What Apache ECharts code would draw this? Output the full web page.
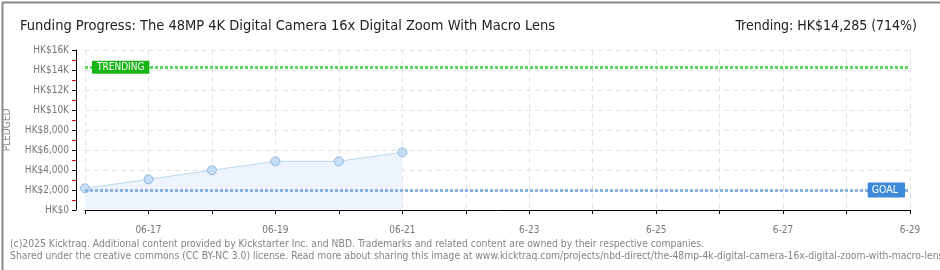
<!DOCTYPE html>
<html><head><meta charset="utf-8">
<script src="https://cdn.jsdelivr.net/npm/echarts@6/dist/echarts.min.js"></script>
<style>html,body{margin:0;padding:0;background:#fff}#c{width:940px;height:270px}</style>
</head><body><div id="c"></div>
<script>
const categories = ['06-16','06-17','06-18','06-19','06-20','06-21','6-22','6-23','6-24','6-25','6-26','6-27','6-28','6-29'];
const pledged = [2170, 3070, 3970, 4870, 4870, 5770];
const goal = 2000;
const trending = 14285;
const yTickLabels = {0:'HK$0',2000:'HK$2,000',4000:'HK$4,000',6000:'HK$6,000',8000:'HK$8,000',10000:'HK$10K',12000:'HK$12K',14000:'HK$14K',16000:'HK$16K'};
const titleText = 'Funding Progress: The 48MP 4K Digital Camera 16x Digital Zoom With Macro Lens';
const trendText = 'Trending: HK$14,285 (714%)';
const footer1 = '(c)2025 Kicktraq. Additional content provided by Kickstarter Inc. and NBD. Trademarks and related content are owned by their respective companies.';
const footer2 = 'Shared under the creative commons (CC BY-NC 3.0) license. Read more about sharing this image at www.kicktraq.com/projects/nbd-direct/the-48mp-4k-digital-camera-16x-digital-zoom-with-macro-lens/';

const chart = echarts.init(document.getElementById('c'), null, {renderer:'canvas'});
const narrow = "'Liberation Sans Narrow','DejaVu Sans Condensed',sans-serif";
const small = "'DejaVu Sans Condensed','DejaVu Sans',sans-serif";
chart.setOption({
  animation:false,
  title:[
    {text:titleText,left:15,top:14,textStyle:{fontFamily:narrow,fontSize:14.5,fontWeight:'normal',color:'#222'}},
    {text:trendText,right:18,top:14,textStyle:{fontFamily:narrow,fontSize:14,fontWeight:'normal',color:'#222'}},
    {text:footer1,left:5,top:234,textStyle:{fontFamily:small,fontSize:10.3,fontWeight:'normal',color:'#858585'}},
    {text:footer2,left:5,top:246,textStyle:{fontFamily:small,fontSize:10.3,fontWeight:'normal',color:'#858585'}}
  ],
  graphic:[{type:'rect',left:0,top:0,shape:{x:0,y:0,width:939,height:269},style:{fill:'none',stroke:'#8a8a8a',lineWidth:2},silent:true,z:100}],
  grid:{left:85,right:30,top:50,bottom:60,outerBoundsMode:'none',containLabel:false},
  xAxis:{
    type:'category',data:categories,boundaryGap:false,offset:10,
    axisLine:{lineStyle:{color:'#000',width:1}},
    axisTick:{show:true,interval:0,length:4,lineStyle:{color:'#000'}},
    axisLabel:{interval:(i)=>i%2===1,color:'#777',fontFamily:small,fontSize:10,margin:5},
    splitLine:{show:true,interval:0,lineStyle:{color:'#e2e2e2',type:[5,4]}}
  },
  yAxis:{
    type:'value',min:0,max:16000,interval:2000,offset:9,
    name:'PLEDGED',nameLocation:'middle',nameGap:64,nameRotate:90,
    nameTextStyle:{color:'#888',fontFamily:small,fontSize:10},
    axisLine:{show:true,lineStyle:{color:'#000'}},
    axisTick:{show:true,length:4,lineStyle:{color:'#000'}},
    minorTick:{show:true,splitNumber:2,length:4,lineStyle:{color:'#e00000'}},
    axisLabel:{color:'#777',fontFamily:small,fontSize:10,margin:7,formatter:(v)=>yTickLabels[v]},
    splitLine:{show:true,lineStyle:{color:'#e2e2e2',type:[5,4]}}
  },
  series:[{
    type:'line',data:pledged,symbol:'circle',symbolSize:9,
    itemStyle:{color:'#c6ddf6',borderColor:'#94b7dc',borderWidth:1},
    lineStyle:{color:'#bcd6f1',width:1},
    areaStyle:{color:'#edf4fd',opacity:1},
    z:3,
    markLine:{
      silent:true,symbol:'none',
      data:[
        {yAxis:goal,lineStyle:{color:'#8cb3e0',width:3,type:[3,2]},
          label:{show:true,position:'insideEnd',formatter:'GOAL',distance:5,color:'#fff',backgroundColor:'#3d8ad8',fontFamily:small,fontSize:10.5,padding:[2,7,2,4],borderRadius:1}},
        {yAxis:trending,lineStyle:{color:'#5fd45f',width:3,type:[3,2]},
          label:{show:true,position:'insideStart',formatter:'TRENDING',distance:7,color:'#fff',backgroundColor:'#18b418',fontFamily:small,fontSize:10,padding:[2,5,1,5],borderRadius:1}}
      ]
    }
  }]
});
</script></body></html>
